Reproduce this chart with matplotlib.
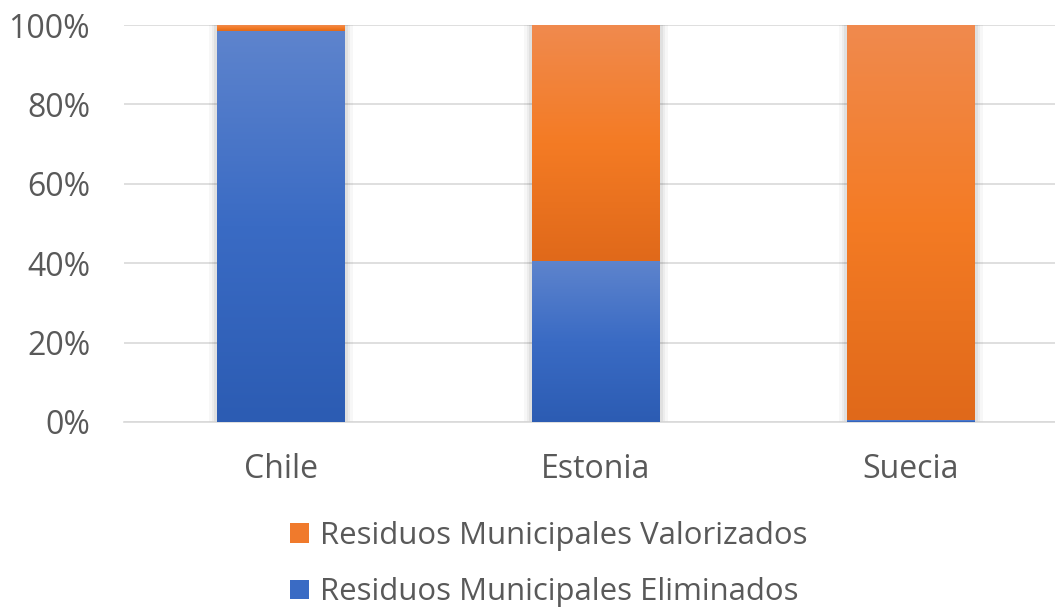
import numpy as np
import matplotlib
matplotlib.use("Agg")
import matplotlib.pyplot as plt
from matplotlib.colors import LinearSegmentedColormap
from matplotlib.patches import Rectangle

categories = ["Chile", "Estonia", "Suecia"]
eliminados = [98.5, 40.6, 0.5]
valorizados = [1.5, 59.4, 99.5]
yticks = [0, 20, 40, 60, 80, 100]
ylabels = ["0%", "20%", "40%", "60%", "80%", "100%"]
series_names = ["Residuos Municipales Valorizados", "Residuos Municipales Eliminados"]

plt.rcParams['font.family'] = ['Open Sans', 'DejaVu Sans']
txt = '#595959'

fig = plt.figure(figsize=(10.55, 6.07), dpi=100)
W, H = 1055, 607
ax = fig.add_axes([123.5 / W, (H - 422) / H, 945 / W, 397 / H])
ax.set_xlim(-0.5, 2.5)
ax.set_ylim(0, 100)

blue_cmap = LinearSegmentedColormap.from_list('b', ['#2C5CB3', '#3A6BC4', '#5E84CD'])
orange_cmap = LinearSegmentedColormap.from_list('o', ['#E0691A', '#F47B24', '#F08A4E'])

width = 0.406
x = np.arange(len(categories))
grad = np.linspace(0, 1, 256).reshape(-1, 1)

def grad_bar(xc, bottom, height, cmap, full_ext):
    rect = Rectangle((xc - width / 2, bottom), width, height, facecolor='none',
                     edgecolor='none', zorder=3)
    ax.add_patch(rect)
    im = ax.imshow(grad, cmap=cmap, aspect='auto', origin='lower',
                   extent=[xc - width / 2, xc + width / 2, full_ext[0], full_ext[1]],
                   zorder=3, interpolation='bilinear')
    im.set_clip_path(rect)

for i, xc in enumerate(x):
    # soft shadow
    for k, a in zip([0.025, 0.017, 0.009], [0.03, 0.04, 0.05]):
        ax.add_patch(Rectangle((xc - width / 2 - k, 0), width + 2 * k, 100,
                               facecolor='black', alpha=a, edgecolor='none', zorder=2))
    grad_bar(xc, 0, eliminados[i], blue_cmap, (0, max(eliminados[i], 1e-6)))
    grad_bar(xc, eliminados[i], valorizados[i], orange_cmap,
             (eliminados[i], eliminados[i] + valorizados[i]))

ax.set_xlim(-0.5, 2.5)
ax.set_ylim(0, 100)
ax.set_yticks(yticks)
ax.set_yticklabels(ylabels)
ax.set_xticks(x)
ax.set_xticklabels(categories)
ax.tick_params(axis='both', length=0, labelsize=23, colors=txt)
ax.tick_params(axis='y', pad=24)
ax.tick_params(axis='x', pad=22)
ax.grid(axis='y', color='#D9D9D9', linewidth=1.2, zorder=0)
ax.set_axisbelow(True)
for s in ['top', 'right', 'left']:
    ax.spines[s].set_visible(False)
ax.spines['bottom'].set_color('#D9D9D9')
ax.spines['bottom'].set_linewidth(1.2)

handles = [Rectangle((0, 0), 1, 1, facecolor='#F07A2C'), Rectangle((0, 0), 1, 1, facecolor='#3A6BC4')]
leg = fig.legend(handles, series_names, loc='upper left', bbox_to_anchor=(290 / W, 1 - 521 / H),
                 frameon=False, fontsize=22.4, labelcolor=txt, handlelength=0.6, handleheight=0.6,
                 handletextpad=0.35, labelspacing=0.85, borderpad=0, borderaxespad=0)

fig.savefig('out.png', dpi=100, facecolor='white')
